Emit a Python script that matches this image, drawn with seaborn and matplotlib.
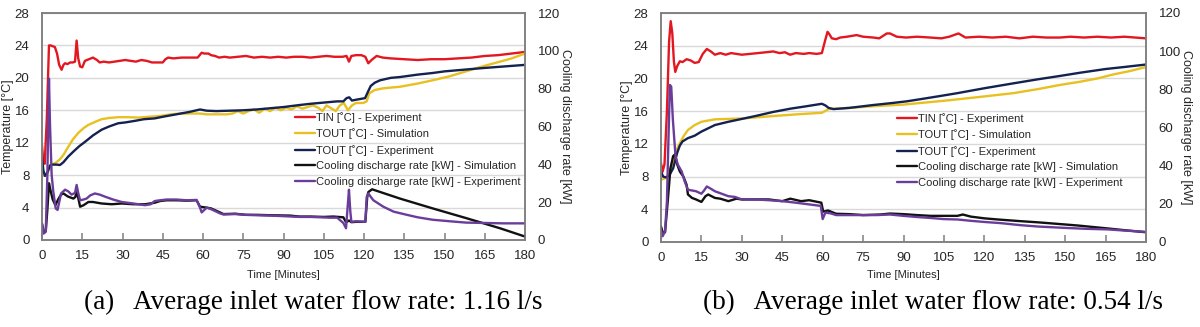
import matplotlib
matplotlib.use("Agg")
import matplotlib.pyplot as plt
import seaborn as sns
import pandas as pd

sns.set_theme(style="white")
plt.rcParams["font.family"] = ["Liberation Sans", "DejaVu Sans"]

# ---------------------------------------------------------------------------
# (a) average inlet water flow rate 1.16 l/s   -- (time [min], value)
# temperatures in degC, cooling discharge rate in kW
# ---------------------------------------------------------------------------
tin_exp_a = [
    (0, 11.7), (0.5, 9.6), (1.0, 9.4), (1.8, 15.0), (2.6, 24.0), (3.2, 24.0),
    (4.0, 23.9), (4.8, 23.8), (5.6, 23.0), (6.4, 21.6), (7.3, 21.0), (8.0, 21.6),
    (8.6, 21.8), (9.5, 21.7), (10.5, 21.9), (11.5, 21.9), (12.3, 22.0), (12.9, 24.6),
    (13.5, 22.4), (14.2, 21.4), (15.0, 21.3), (16.0, 22.1), (17.5, 22.3), (19.0, 22.5),
    (20.5, 22.2), (21.5, 21.9), (23, 22.0), (25, 21.9), (27, 22.0), (29, 22.1),
    (31, 22.2), (33, 22.1), (35, 22.0), (37, 22.2), (39, 22.1), (41, 21.9),
    (43, 21.9), (45, 21.9), (46, 22.3), (47, 22.5), (49, 22.4), (52, 22.5),
    (55, 22.5), (58, 22.5), (59.5, 23.1), (60.5, 23.0), (62, 23.0), (63, 22.8),
    (64.5, 22.7), (66, 22.5), (68, 22.6), (70, 22.5), (73, 22.6), (76, 22.7),
    (79, 22.5), (82, 22.6), (85, 22.5), (88, 22.6), (91, 22.5), (94, 22.6),
    (97, 22.6), (100, 22.5), (103, 22.6), (106, 22.7), (109, 22.6), (112, 22.6),
    (113.5, 22.7), (114.4, 22.0), (115.3, 22.7), (117, 22.8), (119, 22.8), (120.5, 22.6),
    (121.6, 21.8), (122.8, 22.2), (124.7, 22.7), (127, 22.5), (130, 22.4), (135, 22.3),
    (140, 22.2), (145, 22.3), (150, 22.3), (155, 22.4), (160, 22.5), (165, 22.7),
    (170, 22.8), (175, 23.0), (180, 23.2),
]
tout_sim_a = [
    (0, 7.9), (1, 8.0), (2, 8.3), (3.5, 9.3), (5, 9.5), (6.5, 9.9), (8, 10.5),
    (9.8, 11.5), (11.5, 12.4), (13.5, 13.2), (15.5, 13.8), (17.3, 14.2), (20, 14.6),
    (22.2, 14.9), (25, 15.05), (28.4, 15.15), (32, 15.15), (36, 15.1), (40, 15.2),
    (44, 15.3), (48, 15.5), (52, 15.6), (56, 15.6), (58.9, 15.6), (61.4, 15.5),
    (65, 15.5), (68.8, 15.5), (71, 15.6), (73, 15.9), (75, 15.6), (77, 15.9),
    (79, 16.1), (81, 15.7), (83, 16.2), (85, 15.9), (87, 16.3), (89, 16.0),
    (91, 16.3), (93, 16.1), (95, 16.5), (97, 16.2), (99, 16.4), (101, 16.6),
    (103, 16.3), (104.5, 15.9), (106, 16.6), (108, 16.2), (109.5, 15.9), (111, 16.6),
    (112.5, 16.9), (114, 16.0), (115.5, 16.6), (117, 16.9), (119.7, 16.9), (121, 17.1),
    (122, 18.1), (124, 18.5), (127, 18.7), (130, 18.8), (133.4, 18.9), (140, 19.3),
    (145.6, 19.7), (152, 20.2), (158, 20.8), (164, 21.4), (170.7, 22.0), (175, 22.4),
    (180, 23.0),
]
tout_exp_a = [
    (0, 10.2), (0.5, 8.6), (1.1, 7.9), (2, 8.3), (3, 9.2), (4, 9.3), (5.5, 9.3),
    (6.7, 9.25), (8, 9.6), (9.8, 10.3), (12, 11.0), (14, 11.6), (16, 12.1), (19, 12.9),
    (22.2, 13.6), (25, 14.0), (28.4, 14.4), (31, 14.5), (34.7, 14.7), (38, 14.9),
    (42, 15.0), (45, 15.2), (50, 15.5), (55, 15.8), (58.9, 16.1), (61.4, 15.95),
    (65, 15.9), (70, 15.95), (75, 16.0), (80, 16.1), (85, 16.25), (90, 16.4),
    (96, 16.65), (100, 16.8), (105, 16.95), (110, 17.1), (112.3, 17.1), (113.5, 17.5),
    (114.5, 17.6), (115.5, 17.2), (117, 17.3), (120.4, 17.5), (121.5, 18.3), (122.5, 19.0),
    (124, 19.4), (126, 19.7), (130, 20.0), (133.4, 20.1), (140, 20.4), (145.6, 20.6),
    (150, 20.8), (157, 21.0), (164, 21.2), (172, 21.4), (180, 21.6),
]
cool_sim_a = [
    (0, 8.6), (0.6, 4.3), (1.4, 4.7), (2.0, 16.0), (2.6, 30.0), (3.2, 26.0), (4.0, 21.4),
    (5.0, 18.4), (6.0, 21.4), (7.1, 24.0), (8.0, 24.6), (9.0, 23.6), (9.8, 22.9),
    (11.7, 21.9), (12.4, 22.7), (12.9, 25.5), (13.5, 22.3), (14.2, 17.6), (15.5, 18.4),
    (17.3, 20.1), (19, 20.1), (22.2, 19.3), (26, 18.9), (29.7, 19.3), (34, 18.9),
    (38.4, 18.9), (42, 19.7), (44, 20.6), (46.5, 21.0), (50, 21.0), (54, 20.8),
    (57.6, 21.0), (58.9, 17.6), (61.4, 17.1), (63, 16.7), (66.3, 14.6), (67.6, 13.7),
    (72, 13.9), (76, 13.3), (80, 13.3), (85, 13.1), (92.4, 12.9), (96, 12.4),
    (100, 12.4), (105, 12.2), (108.6, 12.4), (112.3, 12.0), (113.3, 9.4), (114.4, 10.3),
    (115.3, 9.4), (117, 9.6), (120.5, 9.6), (121.2, 22.7), (121.6, 25.3), (123, 26.8),
    (124.5, 26.1), (133.4, 21.9), (145.6, 16.7), (158, 11.6), (170.7, 6.2),
    (179.4, 2.1), (180, 1.9),
]
cool_exp_a = [
    (0, 8.6), (0.6, 3.4), (1.4, 4.3), (2.0, 34.3), (2.6, 85.3), (3.0, 60.0), (3.6, 34.3),
    (4.2, 25.7), (5.1, 16.7), (5.8, 15.9), (6.5, 20.6), (7.1, 24.6), (8.6, 26.6),
    (9.8, 25.7), (11, 24.0), (12.3, 24.9), (12.9, 29.1), (13.5, 24.9), (14.2, 21.0),
    (15.5, 21.4), (16.6, 21.9), (18, 23.6), (19.7, 24.6), (21.5, 24.0), (23.5, 22.9),
    (26.5, 21.4), (29.7, 20.1), (34, 19.3), (38.4, 18.4), (40.5, 18.9), (42, 20.6),
    (44, 21.0), (46.5, 21.4), (50, 21.4), (54, 21.0), (57.6, 21.2), (58.9, 17.1),
    (59.5, 14.6), (61.4, 17.1), (63, 16.3), (66.3, 14.1), (67.6, 13.5), (72, 13.7),
    (76, 13.3), (80, 13.1), (85, 12.9), (90, 12.6), (96, 12.2), (100, 12.2),
    (104, 12.0), (107, 11.8), (110, 11.8), (112.3, 9.0), (113.3, 6.2), (114.0, 19.3),
    (114.4, 26.6), (114.9, 15.0), (115.3, 9.6), (117, 9.9), (120.5, 9.6), (121.0, 22.7),
    (121.6, 24.6), (123, 21.9), (123.5, 21.0), (127.2, 17.6), (131, 15.0), (136, 13.3),
    (140, 12.0), (145.6, 10.7), (152, 9.9), (158, 9.2), (165, 9.0), (172, 8.8),
    (180, 8.8),
]

# ---------------------------------------------------------------------------
# (b) average inlet water flow rate 0.54 l/s
# ---------------------------------------------------------------------------
tin_exp_b = [
    (0, 9.65), (0.6, 8.6), (1.3, 9.5), (2.2, 16.0), (3.0, 24.5), (3.6, 27.0), (4.2, 25.5),
    (4.8, 22.0), (5.3, 20.8), (6.0, 21.5), (7.0, 22.1), (8.0, 22.0), (9.5, 22.35),
    (11, 22.2), (12.5, 21.9), (14, 22.0), (15.5, 23.0), (17, 23.6), (18.5, 23.3),
    (20, 22.9), (22, 23.1), (24, 22.9), (26, 23.1), (28, 23.0), (30, 22.9), (33, 23.0),
    (36, 23.1), (39, 23.2), (41.6, 23.3), (44, 23.1), (46, 23.2), (47.9, 22.9),
    (50, 23.1), (53, 23.0), (55, 23.1), (57.8, 23.0), (59.7, 23.1), (60.8, 24.5),
    (61.8, 25.7), (62.5, 25.4), (63.4, 24.9), (65, 24.8), (66.5, 25.0), (69, 25.1),
    (72.6, 25.3), (75, 25.1), (78.8, 25.0), (81, 24.9), (83.8, 25.5), (85, 25.5),
    (87.5, 25.1), (91, 25.0), (95, 25.1), (100, 25.0), (104, 24.9), (107, 25.1),
    (110.4, 25.5), (113, 25.0), (118, 25.1), (123, 25.0), (128, 25.1), (133, 24.9),
    (138, 25.1), (143, 25.0), (148, 25.0), (152, 25.1), (157, 25.0), (162, 25.1),
    (167, 25.0), (172, 25.1), (176, 25.0), (180, 24.9),
]
tout_sim_b = [
    (0, 7.6), (1.5, 7.8), (3, 8.2), (4, 9.3), (5, 10.5), (6, 11.4), (7, 12.1),
    (8.5, 13.0), (10, 13.7), (12.5, 14.3), (15, 14.7), (20, 15.0), (30, 15.1),
    (41.6, 15.4), (50, 15.6), (59.7, 15.8), (62.2, 16.25), (70, 16.4), (78.8, 16.6),
    (90, 16.8), (106, 17.3), (120, 17.8), (130.8, 18.2), (140, 18.7), (148, 19.2),
    (155.6, 19.6), (162, 20.0), (168, 20.5), (174, 20.9), (180, 21.4),
]
tout_exp_b = [
    (0, 8.6), (0.8, 8.0), (1.8, 7.9), (3, 8.1), (4.5, 9.0), (6, 10.9), (7, 11.8),
    (8, 12.3), (10, 12.7), (12.5, 13.0), (15, 13.5), (20, 14.3), (25, 14.7),
    (29.3, 15.0), (35, 15.4), (41.6, 15.9), (48, 16.3), (54, 16.6), (59.7, 16.9),
    (61, 16.7), (62.2, 16.4), (64, 16.25), (70, 16.4), (78.8, 16.75), (86, 17.0),
    (91.2, 17.2), (97, 17.5), (103.6, 17.85), (110, 18.2), (120, 18.8), (130.8, 19.4),
    (140, 19.9), (148, 20.3), (155.6, 20.7), (165, 21.15), (172, 21.4), (180, 21.7),
]
cool_sim_b = [
    (0, 8.1), (0.7, 4.7), (1.5, 5.1), (2.5, 21.4), (3.5, 38.6), (4.5, 45.0), (5.2, 45.9),
    (6.0, 40.7), (7.0, 36.9), (8.3, 34.3), (9.5, 30.0), (10.0, 24.9), (11.5, 23.1),
    (13, 22.3), (15, 21.0), (16.5, 24.0), (17.5, 24.9), (20, 23.1), (22, 22.7),
    (25, 21.4), (28, 22.7), (30, 22.3), (35, 22.3), (40, 22.3), (45, 21.4), (48, 22.7),
    (52, 21.4), (55, 21.9), (59.5, 20.6), (60.2, 15.9), (62, 16.5), (65, 14.8),
    (70, 14.6), (75, 14.1), (81.3, 14.4), (85, 14.9), (90, 14.6), (95, 14.1),
    (100, 13.7), (105, 13.7), (110, 13.7), (112, 14.4), (115, 13.3), (120, 12.4),
    (125, 11.8), (133.6, 10.9), (140, 10.3), (149.8, 9.2), (155, 8.6), (160, 7.9),
    (165.8, 7.1), (172, 6.2), (180, 5.1),
]
cool_exp_b = [
    (0, 6.4), (0.6, 3.0), (1.5, 5.6), (2.2, 21.4), (2.8, 55.7), (3.3, 82.3), (3.8, 81.4),
    (4.4, 64.3), (4.9, 54.4), (5.4, 45.0), (6.2, 40.7), (7.7, 36.9), (8.8, 31.7),
    (10, 27.4), (11.5, 27.0), (13, 26.6), (15, 25.3), (16, 27.0), (17, 29.1),
    (18.5, 27.9), (20, 26.6), (22.5, 25.3), (25, 24.0), (27.5, 23.6), (30, 22.3),
    (35, 22.3), (40, 21.9), (45, 21.4), (50, 20.6), (55, 19.7), (59.3, 18.9),
    (60.0, 12.0), (61, 15.4), (63, 15.0), (65, 14.1), (70, 14.1), (75, 14.1),
    (80, 14.1), (85, 14.4), (90, 13.7), (95, 13.1), (100, 12.6), (105, 12.0),
    (110, 11.8), (115, 11.1), (120, 10.5), (126, 9.9), (133.6, 8.8), (140, 8.1),
    (149.8, 7.4), (158, 6.9), (165.8, 6.6), (172, 6.0), (180, 5.3),
]

series_labels = [
    "TIN [˚C] - Experiment",
    "TOUT [˚C] - Simulation",
    "TOUT [˚C] - Experiment",
    "Cooling discharge rate [kW] - Simulation",
    "Cooling discharge rate [kW] - Experiment",
]
series_colors = ["#e3171f", "#e8c020", "#13224f", "#111111", "#6a3d9a"]

time_ticks = list(range(0, 181, 15))
temp_ticks = list(range(0, 29, 4))
rate_ticks = list(range(0, 121, 20))

captions = [
    "(a)   Average inlet water flow rate: 1.16 l/s",
    "(b)   Average inlet water flow rate: 0.54 l/s",
]

W, H = 1200, 327
fig = plt.figure(figsize=(W / 100, H / 100), dpi=100)

TICK_FS = 9.5
LABEL_FS = 9
LEG_FS = 8
SPINE = "#7f7f7f"
TEXT = "#262626"


def to_frame(pairs):
    return pd.DataFrame(pairs, columns=["time", "value"])


def draw_panel(px_box, temp_series, rate_series, legend_xy, caption, caption_x):
    x0, y0, x1, y1 = px_box
    rect = [x0 / W, 1 - y1 / H, (x1 - x0) / W, (y1 - y0) / H]
    ax = fig.add_axes(rect)
    ax2 = ax.twinx()

    handles = []
    for pairs, color in zip(temp_series, series_colors[:3]):
        sns.lineplot(data=to_frame(pairs), x="time", y="value", ax=ax,
                     color=color, linewidth=1.7, sort=False, legend=False)
        handles.append(ax.get_lines()[-1])
    for pairs, color in zip(rate_series, series_colors[3:]):
        sns.lineplot(data=to_frame(pairs), x="time", y="value", ax=ax2,
                     color=color, linewidth=1.7, sort=False, legend=False)
        handles.append(ax2.get_lines()[-1])

    ax.set_xlim(0, 180)
    ax.set_ylim(0, 28)
    ax2.set_ylim(0, 120)
    ax.set_xticks(time_ticks)
    ax.set_yticks(temp_ticks)
    ax2.set_yticks(rate_ticks)

    ax.yaxis.grid(True, color="#d9d9d9", linewidth=1.0)
    ax.xaxis.grid(False)
    ax2.grid(False)
    ax.set_axisbelow(True)

    for a in (ax, ax2):
        for s in a.spines.values():
            s.set_color(SPINE)
            s.set_linewidth(1.1)
            s.set_visible(True)

    ax.tick_params(axis="x", direction="in", length=5, width=1.1, color=SPINE,
                   pad=7, labelsize=TICK_FS, labelcolor=TEXT, bottom=True)
    ax.tick_params(axis="y", length=0, pad=9, labelsize=TICK_FS, labelcolor=TEXT)
    ax2.tick_params(axis="y", length=0, pad=9, labelsize=TICK_FS, labelcolor=TEXT)

    ax.set_xlabel("Time [Minutes]", fontsize=8, color=TEXT)
    ax.xaxis.set_label_coords(0.5, (y1 - 270) / (y1 - y0))
    ax.set_ylabel("Temperature [°C]", fontsize=LABEL_FS, color=TEXT)
    ax.yaxis.set_label_coords(-28 / (x1 - x0), 0.5)
    ax2.set_ylabel("Cooling discharge rate [kW]", fontsize=LABEL_FS, color=TEXT,
                   rotation=-90, va="center")
    ax2.yaxis.set_label_coords((x1 + 40 - x0) / (x1 - x0), 0.5)

    ax2.legend(handles, series_labels, loc="upper left",
               bbox_to_anchor=(legend_xy[0] / W, 1 - legend_xy[1] / H),
               bbox_transform=fig.transFigure, frameon=False, fontsize=LEG_FS,
               handlelength=1.8, handletextpad=0.05, labelspacing=0.5,
               borderpad=0, borderaxespad=0)

    fig.text(caption_x / W, 1 - 302 / H, caption, ha="center", va="center",
             fontsize=19.5, family=["Liberation Serif", "DejaVu Serif"], color="#000000")


draw_panel((42, 13, 525, 240),
           [tin_exp_a, tout_sim_a, tout_exp_a], [cool_sim_a, cool_exp_a],
           (295, 112), captions[0], 313)
draw_panel((661, 13, 1146, 242),
           [tin_exp_b, tout_sim_b, tout_exp_b], [cool_sim_b, cool_exp_b],
           (897, 113), captions[1], 933)

fig.savefig("out.png", dpi=100)
